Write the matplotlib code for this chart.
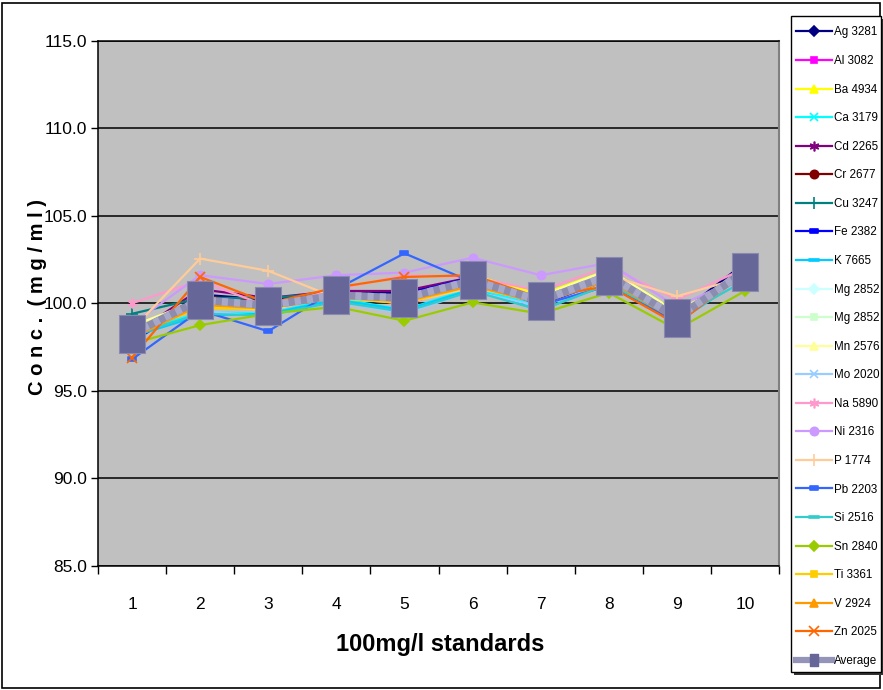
import matplotlib
matplotlib.use("Agg")
import matplotlib.pyplot as plt
import numpy as np
from matplotlib.path import Path
from matplotlib.lines import Line2D
from matplotlib.patches import Rectangle

# ---------------- data ----------------
standards = [1, 2, 3, 4, 5, 6, 7, 8, 9, 10]
series_names = ["Ag 3281", "Al 3082", "Ba 4934", "Ca 3179", "Cd 2265", "Cr 2677",
                "Cu 3247", "Fe 2382", "K 7665", "Mg 2852", "Mg 2852", "Mn 2576",
                "Mo 2020", "Na 5890", "Ni 2316", "P 1774", "Pb 2203", "Si 2516",
                "Sn 2840", "Ti 3361", "V 2924", "Zn 2025"]

ag = [98.0, 100.5, 100.2, 100.7, 100.6, 101.4, 100.2, 101.5, 99.3, 102.3]
al = [98.4, 99.8, 100.0, 100.6, 99.9, 101.2, 100.1, 101.6, 99.0, 101.8]
ba = [98.6, 99.9, 99.6, 100.5, 100.1, 101.6, 100.5, 101.9, 99.5, 101.7]
ca = [98.3, 99.5, 99.4, 100.3, 99.6, 100.9, 99.8, 101.3, 99.1, 101.5]
cd = [98.2, 100.8, 100.3, 100.7, 100.7, 101.5, 100.2, 101.5, 99.0, 101.9]
cr = [98.1, 100.4, 100.1, 100.5, 100.5, 101.4, 100.1, 101.4, 99.0, 101.8]
cu = [99.4, 100.3, 100.3, 100.6, 100.3, 101.2, 100.0, 101.6, 99.2, 101.9]
fe = [97.8, 100.2, 99.9, 100.5, 100.5, 101.5, 99.9, 101.3, 98.9, 102.1]
k = [98.1, 99.3, 99.4, 100.2, 99.6, 100.8, 99.6, 101.1, 98.9, 101.5]
mg_a = [98.5, 100.1, 99.8, 100.5, 100.2, 101.3, 100.3, 101.8, 99.4, 101.8]
mg_b = [98.5, 100.0, 99.8, 100.4, 100.1, 101.2, 100.3, 101.7, 99.4, 101.7]
mn = [98.7, 100.2, 99.9, 100.5, 100.2, 101.4, 100.4, 101.9, 99.5, 101.8]
mo = [98.4, 99.6, 99.2, 100.1, 99.4, 100.7, 99.8, 101.2, 99.2, 101.4]
na = [100.0, 101.3, 99.8, 100.8, 101.6, 101.5, 100.7, 102.1, 100.2, 102.0]
ni = [98.8, 101.6, 101.1, 101.6, 101.75, 102.6, 101.6, 102.3, 99.8, 101.6]
p = [98.5, 102.55, 101.85, 100.3, 100.0, 100.9, 100.1, 101.6, 100.4, 101.5]
pb = [96.8, 99.6, 98.4, 100.8, 102.85, 101.2, 99.9, 101.0, 98.9, 101.9]
si = [98.2, 99.4, 99.3, 100.1, 99.5, 100.7, 99.6, 101.1, 99.1, 101.3]
sn = [97.7, 98.75, 99.4, 99.8, 99.0, 100.05, 99.4, 100.6, 98.5, 100.7]
ti = [98.3, 99.7, 99.7, 100.3, 100.0, 101.0, 100.0, 101.5, 99.3, 101.7]
v = [98.0, 99.9, 99.7, 100.4, 100.1, 101.0, 100.0, 101.3, 99.0, 101.6]
zn = [96.9, 101.5, 100.0, 100.9, 101.5, 101.6, 100.3, 101.0, 98.8, 101.8]
average = [98.26, 100.19, 99.87, 100.46, 100.29, 101.3, 100.15, 101.58, 99.18, 101.81]

series_values = [ag, al, ba, ca, cd, cr, cu, fe, k, mg_a, mg_b, mn, mo, na, ni, p,
                 pb, si, sn, ti, v, zn]

# ---------------- styles ----------------
colors = ["#000080", "#FF00FF", "#FFFF00", "#00FFFF", "#800080", "#800000",
          "#008080", "#0000FF", "#00CCFF", "#CCFFFF", "#CCFFCC", "#FFFF99",
          "#99CCFF", "#FF99CC", "#CC99FF", "#FFCC99", "#3366FF", "#33CCCC",
          "#99CC00", "#FFCC00", "#FF9900", "#FF6600"]

short_bar = Path([(-0.5, -0.22), (0.5, -0.22), (0.5, 0.22), (-0.5, 0.22), (-0.5, -0.22)],
                 [Path.MOVETO, Path.LINETO, Path.LINETO, Path.LINETO, Path.CLOSEPOLY])
long_bar = Path([(-0.5, -0.15), (0.5, -0.15), (0.5, 0.15), (-0.5, 0.15), (-0.5, -0.15)],
                [Path.MOVETO, Path.LINETO, Path.LINETO, Path.LINETO, Path.CLOSEPOLY])
asterisk = (6, 2, 0)
markers = ["D", "s", "^", "x", asterisk, "o", "+", short_bar, long_bar, "D", "s", "^",
           "x", asterisk, "o", "+", short_bar, long_bar, "D", "s", "^", "x"]
msizes = [5, 5, 6, 6, 7, 6, 8, 6, 7, 5, 5, 6, 6, 7, 6, 8, 6, 7, 5, 5, 6, 7]

avg_marker = Path([(-0.333, -0.5), (0.333, -0.5), (0.333, 0.5), (-0.333, 0.5), (-0.333, -0.5)],
                  [Path.MOVETO, Path.LINETO, Path.LINETO, Path.LINETO, Path.CLOSEPOLY])

fam = ["Liberation Sans", "DejaVu Sans"]

W, H = 883, 690
fig = plt.figure(figsize=(W / 100, H / 100), dpi=100)
fig.patch.set_facecolor("white")

ax = fig.add_axes([98 / W, 1 - 566 / H, (779 - 98) / W, (566 - 40.5) / H])
ax.set_facecolor("#C0C0C0")

handles = []
for name, vals, c, m, ms in zip(series_names, series_values, colors, markers, msizes):
    ln, = ax.plot(standards, vals, color=c, lw=1.6, marker=m, markersize=ms,
                  markerfacecolor=c, markeredgecolor=c, markeredgewidth=1.2,
                  label=name, zorder=3)
    handles.append(ln)

# average: thick striped line with big rectangular markers
ax.plot(standards, average, color="#8C8CB0", lw=5.5, solid_capstyle="butt", zorder=4)
ax.plot(standards, average, color="#A8A8C8", lw=5.5, dashes=(0.8, 0.8), zorder=4)
ax.plot(standards, average, ls="none", marker=avg_marker, markersize=28,
        markerfacecolor="#666699", markeredgecolor="#8A8AB0", markeredgewidth=0.8,
        zorder=5)
avg_handle = Line2D([], [], color="#9494B8", lw=4.5, marker=avg_marker, markersize=8.5,
                    markerfacecolor="#666699", markeredgecolor="#666699")
handles.append(avg_handle)

# axes
ax.set_xlim(0.5, 10.5)
ax.set_ylim(85, 115)
ax.set_yticks(np.arange(85, 115.1, 5))
ax.set_yticklabels([f"{t:.1f}" for t in np.arange(85, 115.1, 5)], family=fam, fontsize=12.5)
ax.yaxis.grid(True, color="black", lw=1.1)
ax.set_axisbelow(True)
ax.tick_params(axis="y", direction="out", length=5, width=1, color="black", pad=3)

ax.set_xticks(standards)
ax.set_xticklabels([str(s) for s in standards], family=fam, fontsize=12.5)
ax.set_xticks(np.arange(0.5, 10.6, 1), minor=True)
ax.tick_params(axis="x", which="major", length=0, pad=22)
ax.tick_params(axis="x", which="minor", direction="out", length=6, width=1, color="black")

for s in ["left", "bottom", "top"]:
    ax.spines[s].set_color("black")
    ax.spines[s].set_linewidth(1.1)
ax.spines["right"].set_color("#808080")
ax.spines["right"].set_linewidth(1.5)

fig.text(440 / W, 1 - 645 / H, "100mg/l standards", ha="center", va="center",
         family=fam, fontsize=17, fontweight="bold")
fig.text(38 / W, 1 - 297 / H, "C o n c .  ( m g / m l )", ha="center", va="center",
         rotation=90, family=fam, fontsize=14.5, fontweight="bold")

# legend box (frame + shadow) drawn separately, legend entries inside
lx0, ly0, lx1, ly1 = 791, 16, 881, 672
fig.patches.append(Rectangle(((lx0 + 3) / W, 1 - (ly1 + 3) / H), (lx1 - lx0) / W,
                             (ly1 - ly0) / H, transform=fig.transFigure,
                             facecolor="#333333", edgecolor="none", zorder=1))
fig.patches.append(Rectangle((lx0 / W, 1 - ly1 / H), (lx1 - lx0) / W, (ly1 - ly0) / H,
                             transform=fig.transFigure, facecolor="white",
                             edgecolor="black", lw=1.0, zorder=2))

leg = fig.legend(handles=handles, labels=series_names + ["Average"], loc="upper left",
                 bbox_to_anchor=(796 / W, 1 - 26.5 / H), borderaxespad=0,
                 prop={"family": fam, "size": 8.4}, frameon=False,
                 handlelength=3.1, handletextpad=0.15, labelspacing=1.42,
                 borderpad=0.0)
leg.set_zorder(5)

# outer chart border
fig.patches.append(Rectangle((2 / W, 2 / H), (W - 5) / W, (H - 5) / H,
                             transform=fig.transFigure, fill=False,
                             edgecolor="black", lw=1.2, zorder=0))

fig.savefig("out.png", dpi=100)
